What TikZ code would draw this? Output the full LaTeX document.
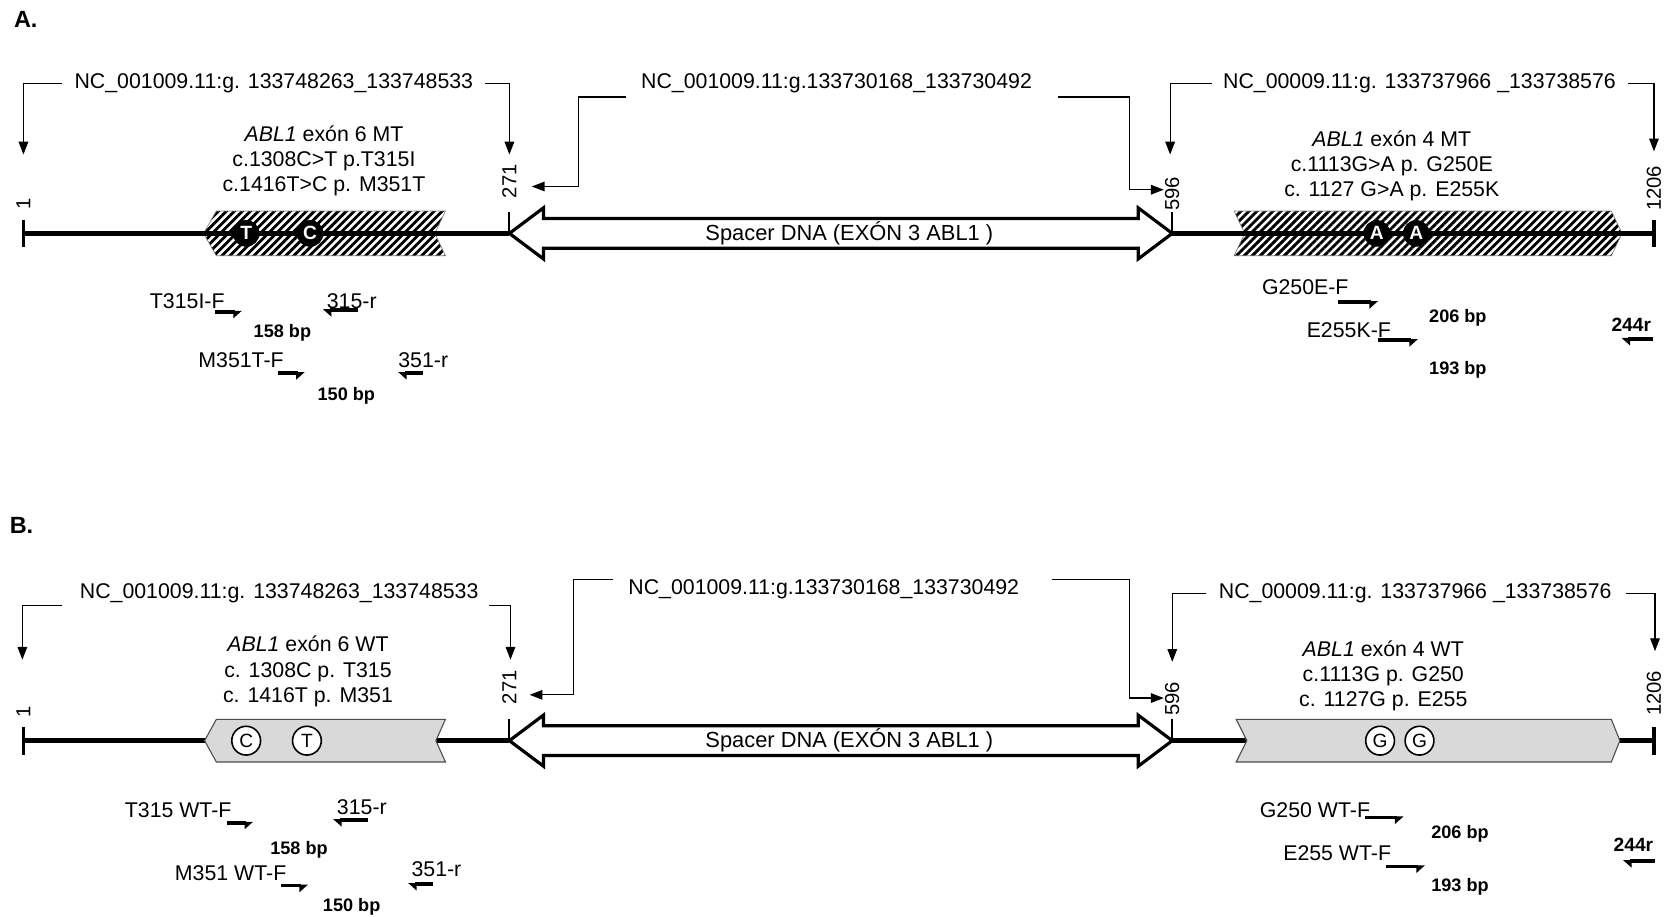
\documentclass[tikz,border=0pt]{standalone}
\usepackage{fontspec}
\setmainfont{Liberation Sans}
\usetikzlibrary{arrows.meta,patterns.meta}
\begin{document}
\begin{tikzpicture}[x=1pt,y=-1pt,
  txt/.style={font=\fontsize{20}{24}\selectfont, inner sep=0pt},
  exlbl/.style={font=\fontsize{20}{23.5}\selectfont, inner sep=0pt, align=center},
  bptxt/.style={font=\fontsize{17}{20}\selectfont\bfseries, inner sep=0pt},
  num/.style={font=\fontsize{19}{20}\selectfont, inner sep=0pt, rotate=90, anchor=west},
  panel/.style={font=\fontsize{22}{24}\selectfont\bfseries, inner sep=0pt, anchor=west},
  sptxt/.style={font=\fontsize{20.5}{22}\selectfont, inner sep=0pt},
  brk/.style={line width=1.1pt, -{Triangle[width=9pt,length=12pt]}},
  dna/.style={line width=5pt},
  endtick/.style={line width=3pt},
  sptick/.style={line width=2pt},
  spacer/.style={line width=3pt, fill=white, line join=miter},
  hatch/.style={draw=gray, line width=0.6pt, pattern={Lines[angle=45,distance=5.3pt,line width=2.7pt]}},
  wtbox/.style={draw=black!70, line width=1pt, fill=black!15},
  mutdot/.style={circle, fill=black, minimum size=25pt, inner sep=0pt, text=white, font=\fontsize{18}{18}\selectfont\bfseries},
  wtdot/.style={circle, draw, line width=1.5pt, fill=white, minimum size=27pt, inner sep=0pt, font=\fontsize{18}{18}\selectfont},
  pf/.style={line width=3.5pt, -{Triangle[right,length=7pt,width=12pt]}},
  pr/.style={line width=3.5pt, -{Triangle[left,length=7pt,width=12pt]}},
]
\fill[white] (0,0) rectangle (1568,860.4);
\useasboundingbox (0,0) rectangle (1568,860.4);

% ================= Panel A =================
\node[panel] (pA) at (13,18) {A.};

% exon boxes
\draw[hatch] (191,219) -- (203,198) -- (418,198) -- (408,219) -- (418,240) -- (203,240) -- cycle;
\draw[hatch] (1158,198) -- (1512,198) -- (1522,219) -- (1512,240) -- (1158,240) -- (1168,219) -- cycle;

% main line
\coordinate (A1) at (22,219);
\coordinate (A271) at (478,219);
\coordinate (A596) at (1100,219);
\coordinate (A1206) at (1552,219);
\draw[dna] (A1) -- (A271);
\draw[dna] (A596) -- (A1206);
\draw[endtick] (22,206) -- (22,232);
\draw[endtick] (1552,206) -- (1552,232);
\draw[sptick] (478,199) -- (A271);
\draw[sptick] (1100,199) -- (A596);

% spacer
\draw[spacer] (A271) -- (510,195) -- (510,205) -- (1068,205) -- (1068,195) -- (A596) -- (1068,243) -- (1068,233) -- (510,233) -- (510,243) -- cycle;
\node[sptxt] (spA) at (797,219) {Spacer DNA (EXÓN 3 ABL1 )};

% mutation dots
\node[mutdot] (dT) at (231,219) {T};
\node[mutdot] (dC) at (291,219) {C};
\node[mutdot] (dA1) at (1292,219) {A};
\node[mutdot] (dA2) at (1329,219) {A};

% position numbers
\node[num] (nA1) at (22,197) {1};
\node[num] (nA271) at (478,186) {271};
\node[num] (nA596) at (1100,198) {596};
\node[num] (nA1206) at (1552,198) {1206};

% brackets
\node[txt] (bA1) at (257,78) {NC\_001009.11:g. 133748263\_133748533};
\coordinate (bA1l) at (22,145);
\coordinate (bA1r) at (478,145);
\draw[brk] (58,78) -| (bA1l);
\draw[brk] (455,78) -| (bA1r);

\node[txt] (bA2) at (785,78) {NC\_001009.11:g.133730168\_133730492};
\coordinate (bA2l) at (499,175);
\coordinate (bA2r) at (1092,178);
\draw[brk] (587,91) -| (543,175) -- (bA2l);
\draw[brk] (993,91) -| (1060,178) -- (bA2r);

\node[txt] (bA3) at (1332,78) {NC\_00009.11:g. 133737966 \_133738576};
\coordinate (bA3l) at (1098,145);
\coordinate (bA3r) at (1552,142);
\draw[brk] (1137,78) -| (bA3l);
\draw[brk] (1528,78) -| (bA3r);

% exon labels
\node[exlbl] (e6A) at (304,151) {\textit{ABL1} exón 6 MT\\c.1308C>T p.T315I\\c.1416T>C p. M351T};
\node[exlbl] (e4A) at (1306,156) {\textit{ABL1} exón 4 MT\\c.1113G>A p. G250E\\c. 1127 G>A p. E255K};

% primers
\node[txt,anchor=west] (pT315F) at (140.5,283) {T315I-F};
\draw[pf] (202,292.5) coordinate (pT315Fa) -- (227,292.5) coordinate (pT315Fb);
\node[txt,anchor=west] (p315r) at (306.5,283) {315-r};
\draw[pr] (336,291) coordinate (p315ra) -- (303,291) coordinate (p315rb);
\node[bptxt] (bp158) at (265,312.6) {158 bp};
\node[txt,anchor=west] (pM351F) at (186,338) {M351T-F};
\draw[pf] (261,350) coordinate (pM351Fa) -- (286,350) coordinate (pM351Fb);
\node[txt,anchor=west] (p351r) at (373.6,338) {351-r};
\draw[pr] (397,350) coordinate (p351ra) -- (373.6,350) coordinate (p351rb);
\node[bptxt] (bp150) at (325,371.6) {150 bp};

\node[txt,anchor=west] (pG250F) at (1184,269) {G250E-F};
\draw[pf] (1255.6,283.5) coordinate (pG250Fa) -- (1293,283.5) coordinate (pG250Fb);
\node[bptxt] (bp206) at (1368,298.6) {206 bp};
\node[txt,anchor=west] (pE255F) at (1226,309.7) {E255K-F};
\draw[pf] (1293,319) coordinate (pE255Fa) -- (1330.6,319) coordinate (pE255Fb);
\node[bptxt] (bp193) at (1368,347) {193 bp};
\node[bptxt,font=\fontsize{18}{20}\selectfont\bfseries,anchor=west] (p244r) at (1512,305) {244r};
\draw[pr] (1551,318) coordinate (p244ra) -- (1521.6,318) coordinate (p244rb);

% ================= Panel B =================
\node[panel] (pB) at (9,493) {B.};

\coordinate (B1) at (22,695);
\coordinate (B271) at (478,695);
\coordinate (B596) at (1100,695);
\coordinate (B1206) at (1552,695);
\draw[dna] (B1) -- (B271);
\draw[dna] (B596) -- (B1206);
\draw[endtick] (22,682) -- (22,708);
\draw[endtick] (1552,682) -- (1552,708);
\draw[sptick] (478,675) -- (B271);
\draw[sptick] (1100,675) -- (B596);

\draw[wtbox] (192,695) -- (203,675) -- (418,675) -- (409,695) -- (418,715) -- (203,715) -- cycle;
\draw[wtbox] (1160,675) -- (1512,675) -- (1520,695) -- (1512,715) -- (1160,715) -- (1170,695) -- cycle;

\draw[spacer] (B271) -- (510,671) -- (510,681) -- (1068,681) -- (1068,671) -- (B596) -- (1068,719) -- (1068,709) -- (510,709) -- (510,719) -- cycle;
\node[sptxt] (spB) at (797,695) {Spacer DNA (EXÓN 3 ABL1 )};

\node[wtdot] (dBC) at (231,695) {C};
\node[wtdot] (dBT) at (288,695) {T};
\node[wtdot] (dBG1) at (1295,695) {G};
\node[wtdot] (dBG2) at (1332,695) {G};

\node[num] (nB1) at (22,673) {1};
\node[num] (nB271) at (478,661) {271};
\node[num] (nB596) at (1100,672) {596};
\node[num] (nB1206) at (1552,672) {1206};

\node[txt] (bB1) at (262,557) {NC\_001009.11:g. 133748263\_133748533};
\coordinate (bB1l) at (21,619);
\coordinate (bB1r) at (479,619);
\draw[brk] (58,568) -| (bB1l);
\draw[brk] (459,568) -| (bB1r);

\node[txt] (bB2) at (773,553) {NC\_001009.11:g.133730168\_133730492};
\coordinate (bB2l) at (497,652);
\coordinate (bB2r) at (1092,655);
\draw[brk] (575,544) -| (538,652) -- (bB2l);
\draw[brk] (987,544) -| (1060,655) -- (bB2r);

\node[txt] (bB3) at (1328,557) {NC\_00009.11:g. 133737966 \_133738576};
\coordinate (bB3l) at (1100,621);
\coordinate (bB3r) at (1553,611);
\draw[brk] (1132,557) -| (bB3l);
\draw[brk] (1526,557) -| (bB3r);

\node[exlbl] (e6B) at (289,630) {\textit{ABL1} exón 6 WT\\c. 1308C p. T315\\c. 1416T p. M351};
\node[exlbl] (e4B) at (1298,634) {\textit{ABL1} exón 4 WT\\c.1113G p. G250\\c. 1127G p. E255};

\node[txt,anchor=west] (pBT315F) at (117,760) {T315 WT-F};
\draw[pf] (212.7,772) coordinate (pBT315Fa) -- (237.5,772) coordinate (pBT315Fb);
\node[txt,anchor=west] (pB315r) at (316,757) {315-r};
\draw[pr] (345,769.5) coordinate (pB315ra) -- (312.6,769.5) coordinate (pB315rb);
\node[bptxt] (bpB158) at (280.6,797) {158 bp};
\node[txt,anchor=west] (pBM351F) at (164,819.6) {M351 WT-F};
\draw[pf] (264,831) coordinate (pBM351Fa) -- (289,831) coordinate (pBM351Fb);
\node[txt,anchor=west] (pB351r) at (386,816) {351-r};
\draw[pr] (406.5,829.5) coordinate (pB351ra) -- (383,829.5) coordinate (pB351rb);
\node[bptxt] (bpB150) at (330,851) {150 bp};

\node[txt,anchor=west] (pBG250F) at (1182,760) {G250 WT-F};
\draw[pf] (1281,767) coordinate (pBG250Fa) -- (1317,767) coordinate (pBG250Fb);
\node[bptxt] (bpB206) at (1370,782) {206 bp};
\node[txt,anchor=west] (pBE255F) at (1204,800.6) {E255 WT-F};
\draw[pf] (1301,813) coordinate (pBE255Fa) -- (1337,813) coordinate (pBE255Fb);
\node[bptxt] (bpB193) at (1370,832) {193 bp};
\node[bptxt,font=\fontsize{18}{20}\selectfont\bfseries,anchor=west] (pB244r) at (1514,793) {244r};
\draw[pr] (1553,808) coordinate (pB244ra) -- (1523,808) coordinate (pB244rb);
\end{tikzpicture}
\end{document}
